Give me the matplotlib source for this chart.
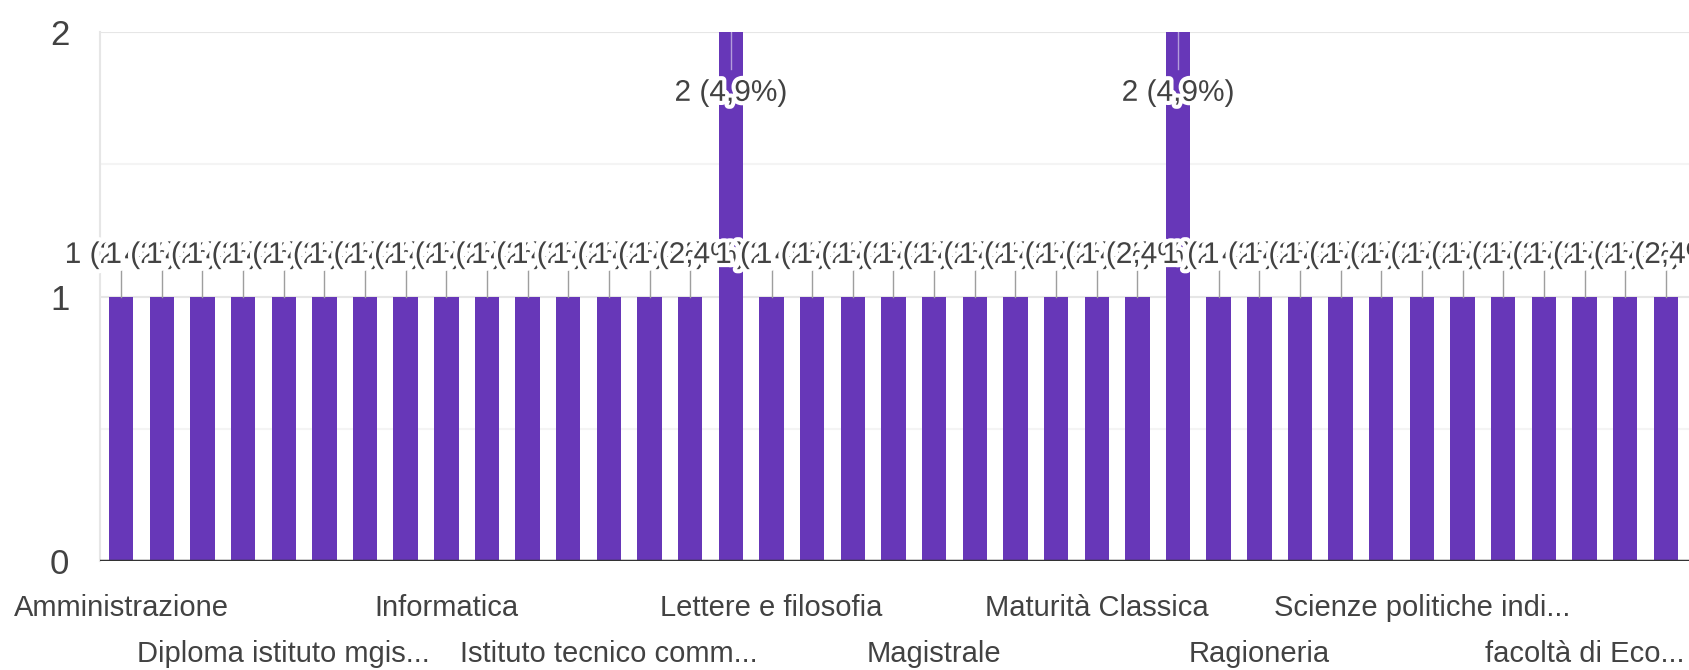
import matplotlib
matplotlib.use('Agg')
import matplotlib.pyplot as plt
import matplotlib.patheffects as pe

plt.rcParams['font.family'] = ['Liberation Sans', 'DejaVu Sans']

# conteggi per categoria (39 risposte diverse, totale 41)
counts = [1] * 15 + [2] + [1] * 10 + [2] + [1] * 12
tick_idx = [0, 4, 8, 12, 16, 20, 24, 28, 32, 36]
tick_labels = ['Amministrazione', 'Diploma istituto mgis...', 'Informatica',
               'Istituto tecnico comm...', 'Lettere e filosofia', 'Magistrale',
               'Maturità Classica', 'Ragioneria', 'Scienze politiche indi...',
               'facoltà di Eco...']

total = sum(counts)
x = list(range(len(counts)))
viola = '#6737b8'
testo = '#424242'

fig = plt.figure(figsize=(16.89, 6.70), dpi=100)
ax = fig.add_axes([100 / 1689, 1 - 561 / 670, 1 - 100 / 1689, (561 - 32) / 670])

ax.bar(x, counts, width=0.6, color=viola, zorder=2)

halo = [pe.withStroke(linewidth=6, foreground='white')]
for i, v in enumerate(counts):
    lab = f'{v} ({v / total * 100:.1f}%)'.replace('.', ',')
    if v == 1:
        ax.plot([i, i], [1.0, 1.108], color='#9e9e9e', lw=1, zorder=3)
        ax.text(i, 1.157, lab, ha='center', va='center', fontsize=21.5,
                color=testo, zorder=4, path_effects=halo)
    else:
        ax.plot([i, i], [2.0, 1.86], color='#b39ddb', lw=1, zorder=3)
        ax.text(i, 1.77, lab, ha='center', va='center', fontsize=21.5,
                color=testo, zorder=4, path_effects=halo)

ax.set_xlim(-0.52, 38.57)
ax.set_ylim(0, 2)
ax.set_yticks([0, 1, 2])
ax.set_yticks([0.5, 1.5], minor=True)
ax.tick_params(axis='y', which='both', length=0, pad=22, labelsize=25, labelcolor=testo)
ax.grid(axis='y', which='major', color='#e6e6e6', lw=1.5, zorder=0)
ax.grid(axis='y', which='minor', color='#f4f4f4', lw=1.5, zorder=0)

ax.set_xticks(tick_idx)
ax.set_xticklabels(tick_labels)
ax.tick_params(axis='x', length=0, labelsize=21, labelcolor=testo)
for k, t in enumerate(ax.xaxis.get_major_ticks()):
    t.set_pad(24 if k % 2 == 0 else 57)

for s in ['top', 'right', 'bottom']:
    ax.spines[s].set_visible(False)
ax.spines['left'].set_color('#e6e6e6')
ax.spines['left'].set_linewidth(1.5)
ax.axhline(0, color='#333333', lw=2.5, zorder=3)

fig.savefig('out.png', dpi=100)
